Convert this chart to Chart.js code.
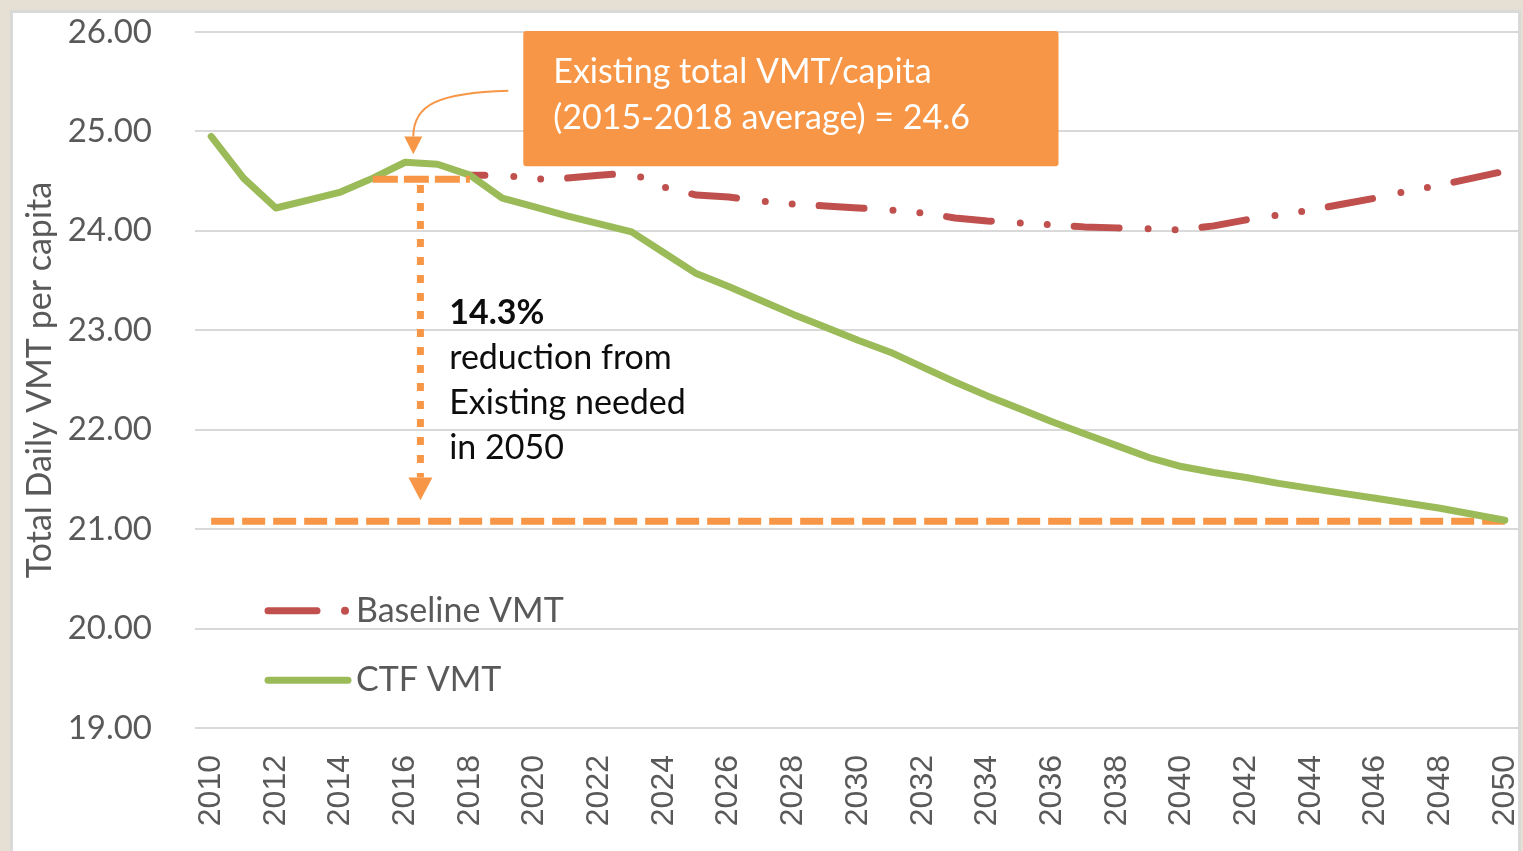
<!DOCTYPE html>
<html>
<head>
<meta charset="utf-8">
<script src="https://cdn.jsdelivr.net/npm/chart.js@4.4.1/dist/chart.umd.min.js"></script>
<style>
  html, body { margin: 0; padding: 0; background: #e6dfd4; }
  canvas { display: block; }
</style>
</head>
<body>
<canvas id="chart" width="1523" height="851"></canvas>
<script>
const years = ['2010', '2011', '2012', '2013', '2014', '2015', '2016', '2017', '2018', '2019',
               '2020', '2021', '2022', '2023', '2024', '2025', '2026', '2027', '2028', '2029',
               '2030', '2031', '2032', '2033', '2034', '2035', '2036', '2037', '2038', '2039',
               '2040', '2041', '2042', '2043', '2044', '2045', '2046', '2047', '2048', '2049', '2050'];

// Baseline only shows from 2018 on (earlier years sit under the CTF line)
const baselineVmt = [null, null, null, null, null, null, null, null, 24.56, 24.56,
                     24.52, 24.53, 24.56, 24.58, 24.44, 24.36, 24.34, 24.30, 24.27, 24.25,
                     24.23, 24.21, 24.18, 24.13, 24.10, 24.08, 24.06, 24.04, 24.03, 24.02,
                     24.01, 24.05, 24.11, 24.16, 24.21, 24.27, 24.33, 24.40, 24.46, 24.53, 24.60];

const ctfVmt = [24.95, 24.53, 24.23, 24.31, 24.39, 24.53, 24.69, 24.67, 24.56, 24.33,
                24.24, 24.15, 24.07, 23.99, 23.78, 23.57, 23.44, 23.30, 23.16, 23.03,
                22.90, 22.78, 22.63, 22.48, 22.34, 22.21, 22.08, 21.96, 21.84, 21.72,
                21.63, 21.57, 21.52, 21.46, 21.41, 21.36, 21.31, 21.26, 21.21, 21.15, 21.09];

const existingAvg = [{ x: '2015', y: 24.52 }, { x: '2018', y: 24.52 }];
const target2050 = [{ x: '2010', y: 21.08 }, { x: '2050', y: 21.08 }];

const yTicks = [19, 20, 21, 22, 23, 24, 25, 26];

const boxLines = ['Existing total VMT/capita', '(2015-2018 average) = 24.6'];
const noteLines = ['14.3%', 'reduction from', 'Existing needed', 'in 2050'];
const legendItems = ['Baseline VMT', 'CTF VMT'];

const RED = '#c0504d';
const GREEN = '#9bbb59';
const ORANGE = '#f79646';
const TEXT = '#595959';

// beige page, white panel with a grey edge
const framePlugin = {
    id: 'frame',
    beforeDraw(chart) {
        const ctx = chart.ctx;
        ctx.save();
        ctx.fillStyle = '#e6dfd4';
        ctx.fillRect(0, 0, chart.width, chart.height);
        ctx.fillStyle = '#ffffff';
        ctx.fillRect(10, 10, chart.width - 12, chart.height);
        ctx.restore();
    },
    afterDraw(chart) {
        const ctx = chart.ctx;
        ctx.save();
        ctx.strokeStyle = '#d9d9d9';
        ctx.lineWidth = 3;
        ctx.strokeRect(11.5, 11.5, chart.width - 15, chart.height + 10);
        ctx.restore();
    }
};

function arrowHead(ctx, tipX, tipY, baseY, half) {
    ctx.beginPath();
    ctx.moveTo(tipX - half, baseY);
    ctx.lineTo(tipX + half, baseY);
    ctx.lineTo(tipX, tipY);
    ctx.closePath();
    ctx.fill();
}

const annotationPlugin = {
    id: 'annotations',
    afterDatasetsDraw(chart) {
        const { ctx, chartArea } = chart;
        const x = chart.scales.x;
        const y = chart.scales.y;
        ctx.save();

        // callout box
        const bx1 = x.getPixelForValue(9.65);
        const bx2 = x.getPixelForValue(26.2);
        const by1 = y.getPixelForValue(26.01);
        const by2 = y.getPixelForValue(24.65);
        ctx.fillStyle = ORANGE;
        ctx.beginPath();
        ctx.roundRect(bx1, by1, bx2 - bx1, by2 - by1, 3);
        ctx.fill();
        ctx.fillStyle = '#ffffff';
        ctx.font = '34px Lato';
        ctx.textBaseline = 'middle';
        ctx.textAlign = 'left';
        boxLines.forEach((t, i) => ctx.fillText(t, bx1 + 30, by1 + 41 + i * 46));

        // curved pointer from the box to the 2015-2018 average
        const px = x.getPixelForValue(6.25);
        ctx.strokeStyle = ORANGE;
        ctx.fillStyle = ORANGE;
        ctx.lineWidth = 2;
        ctx.beginPath();
        ctx.moveTo(bx1 - 15, y.getPixelForValue(25.41));
        ctx.bezierCurveTo(bx1 - 85, y.getPixelForValue(25.39), px, y.getPixelForValue(25.27), px, y.getPixelForValue(24.95));
        ctx.stroke();
        arrowHead(ctx, px, y.getPixelForValue(24.77), y.getPixelForValue(24.95), 9);

        // dotted drop arrow from existing average to 2050 target
        const vx = x.getPixelForValue(6.47);
        ctx.lineWidth = 7;
        ctx.setLineDash([8, 10]);
        ctx.beginPath();
        ctx.moveTo(vx, y.getPixelForValue(24.46));
        ctx.lineTo(vx, y.getPixelForValue(21.52));
        ctx.stroke();
        ctx.setLineDash([]);
        arrowHead(ctx, vx, y.getPixelForValue(21.29), y.getPixelForValue(21.52), 12);

        // note text
        const nx = x.getPixelForValue(7.36);
        ctx.fillStyle = '#0d0d0d';
        noteLines.forEach((t, i) => {
            ctx.font = (i === 0 ? 'bold ' : '') + '34px Lato';
            ctx.fillText(t, nx, y.getPixelForValue(23.17) + i * 45);
        });

        // legend inside the plot
        const lx = chartArea.left + 70;
        const ly1 = y.getPixelForValue(20.18);
        const ly2 = y.getPixelForValue(19.48);
        ctx.lineCap = 'round';
        ctx.lineWidth = 7;
        ctx.strokeStyle = RED;
        ctx.beginPath();
        ctx.moveTo(lx + 3, ly1);
        ctx.lineTo(lx + 52, ly1);
        ctx.stroke();
        ctx.fillStyle = RED;
        ctx.beginPath();
        ctx.arc(lx + 80, ly1, 4, 0, Math.PI * 2);
        ctx.fill();
        ctx.strokeStyle = GREEN;
        ctx.lineWidth = 7;
        ctx.beginPath();
        ctx.moveTo(lx + 3, ly2);
        ctx.lineTo(lx + 83, ly2);
        ctx.stroke();
        ctx.fillStyle = TEXT;
        ctx.font = '34px Lato';
        ctx.fillText(legendItems[0], lx + 91, ly1);
        ctx.fillText(legendItems[1], lx + 91, ly2);

        ctx.restore();
    }
};

const ctx = document.getElementById('chart').getContext('2d');
new Chart(ctx, {
    type: 'line',
    data: {
        labels: years,
        datasets: [
            {
                label: 'Baseline VMT',
                data: baselineVmt,
                borderColor: RED,
                borderWidth: 7,
                borderDash: [45, 29, 0, 27, 0, 27],
                borderDashOffset: 30,
                borderCapStyle: 'round',
                borderJoinStyle: 'round',
                pointRadius: 0,
                order: 3
            },
            {
                label: 'Target',
                data: target2050,
                borderColor: ORANGE,
                borderWidth: 7,
                borderDash: [23, 8],
                pointRadius: 0,
                order: 2
            },
            {
                label: 'CTF VMT',
                data: ctfVmt,
                borderColor: GREEN,
                borderWidth: 7,
                borderCapStyle: 'round',
                borderJoinStyle: 'round',
                pointRadius: 0,
                order: 1
            },
            {
                label: 'Existing',
                data: existingAvg,
                borderColor: ORANGE,
                borderWidth: 7,
                borderDash: [25, 6],
                pointRadius: 0,
                order: 0
            }
        ]
    },
    options: {
        responsive: false,
        animation: false,
        layout: { padding: { top: 32, right: 2, left: 0, bottom: 0 } },
        plugins: {
            legend: { display: false },
            tooltip: { enabled: false }
        },
        scales: {
            x: {
                offset: true,
                grid: { display: false },
                border: { display: false },
                afterFit: scale => {
                    scale.height = 123;
                    scale.paddingLeft = 0;
                    scale.paddingRight = 0;
                },
                ticks: {
                    autoSkip: false,
                    minRotation: 90,
                    maxRotation: 90,
                    padding: 19,
                    color: TEXT,
                    font: { family: 'Liberation Sans', size: 32 },
                    callback: (val, idx) => (idx % 2 === 0 ? years[idx] : null)
                }
            },
            y: {
                min: 19,
                max: 26,
                afterBuildTicks: scale => { scale.ticks = yTicks.map(v => ({ value: v })); },
                afterFit: scale => {
                    scale.width = 195;
                    scale.paddingTop = 0;
                    scale.paddingBottom = 0;
                },
                grid: { color: '#d9d9d9', lineWidth: 2, drawTicks: false },
                border: { display: false },
                ticks: {
                    padding: 43,
                    color: TEXT,
                    font: { family: 'Lato', size: 33 },
                    callback: v => v.toFixed(2)
                },
                title: {
                    display: true,
                    text: 'Total Daily VMT per capita',
                    color: TEXT,
                    font: { family: 'Lato', size: 34 },
                    padding: { top: 20, bottom: 0 }
                }
            }
        }
    },
    plugins: [framePlugin, annotationPlugin]
});
</script>
</body>
</html>
